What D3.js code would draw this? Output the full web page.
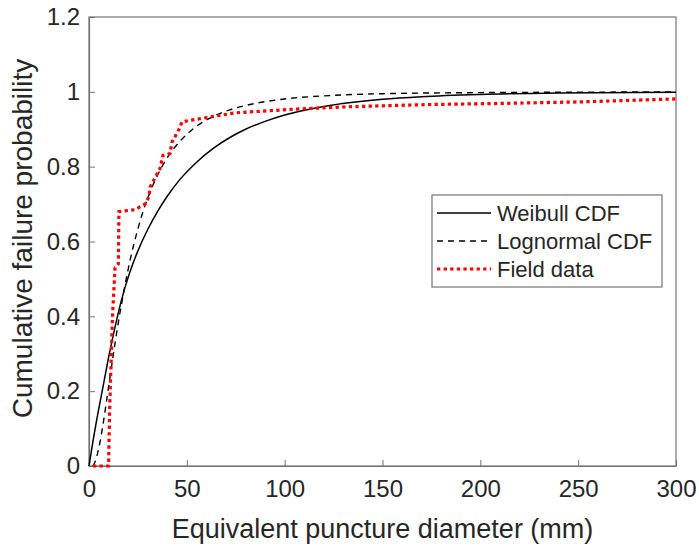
<!DOCTYPE html>
<meta charset="utf-8">
<script src="https://d3js.org/d3.v7.min.js"></script>
<style>
  body { margin: 0; background: #fff; }
  text { font-family: "Liberation Sans", Arial, sans-serif; fill: #262626; }
</style>
<div id="my_dataviz"></div>
<script>
// Weibull CDF
var weibullX = [0, 2, 4, 6, 8, 10, 12, 15, 18, 21, 25, 30, 35, 40, 46.5, 55, 63.5, 72, 80, 90, 100, 110, 120, 135, 150, 170, 200, 240, 300];
var weibullY = [0, 0.065, 0.125, 0.18, 0.235, 0.29, 0.34, 0.41, 0.47, 0.52, 0.575, 0.632, 0.68, 0.721, 0.766, 0.812, 0.849, 0.878, 0.90, 0.921, 0.938, 0.951, 0.961, 0.972, 0.980, 0.987, 0.993, 0.997, 0.999];

// Lognormal CDF
var lognX = [2, 3, 5, 7, 9, 12, 15, 18, 21, 25, 30, 35, 40, 46.5, 55, 63, 72, 85, 100, 123, 150, 200, 250, 300];
var lognY = [0, 0.01, 0.048, 0.106, 0.175, 0.283, 0.384, 0.472, 0.55, 0.634, 0.716, 0.777, 0.824, 0.868, 0.908, 0.933, 0.952, 0.969, 0.981, 0.990, 0.995, 0.998, 0.999, 1.0];

// Field data (empirical)
var fieldX = [2, 10, 10.5, 12, 13.3, 15, 15.3, 23.5, 28.6, 30.7, 31.2, 34.7, 36.3, 37.8, 41.4, 42.4, 46.5, 47.5, 62, 75, 106, 132, 173, 210, 250, 300];
var fieldY = [0, 0, 0.14, 0.40, 0.53, 0.54, 0.68, 0.685, 0.70, 0.72, 0.745, 0.78, 0.795, 0.83, 0.835, 0.865, 0.905, 0.92, 0.933, 0.944, 0.954, 0.960, 0.966, 0.969, 0.973, 0.981];

var xTicks = [0, 50, 100, 150, 200, 250, 300];
var yTicks = [0, 0.2, 0.4, 0.6, 0.8, 1, 1.2];

var seriesNames = ["Weibull CDF", "Lognormal CDF", "Field data"];

var margin = { top: 17, right: 23, bottom: 84, left: 89 },
    width = 699 - margin.left - margin.right,
    height = 550 - margin.top - margin.bottom;

var svg = d3.select("#my_dataviz")
  .append("svg")
    .attr("width", 699)
    .attr("height", 550)
  .append("g")
    .attr("transform", "translate(" + margin.left + "," + margin.top + ")");

var x = d3.scaleLinear().domain([0, 300]).range([0, width]);
var y = d3.scaleLinear().domain([0, 1.2]).range([height, 0]);

var axisColor = "#737373";

// box
svg.append("rect")
  .attr("x", 0).attr("y", 0)
  .attr("width", width).attr("height", height)
  .attr("fill", "none")
  .attr("stroke", axisColor)
  .attr("stroke-width", 1.2);

// X axis (ticks inward)
var xAxis = svg.append("g")
  .attr("transform", "translate(0," + height + ")")
  .call(d3.axisBottom(x).tickValues(xTicks).tickSizeInner(-6).tickSizeOuter(0).tickPadding(14));
// Y axis
var yAxis = svg.append("g")
  .call(d3.axisLeft(y).tickValues(yTicks).tickFormat(d3.format("~g")).tickSizeInner(-6).tickSizeOuter(0).tickPadding(9));

[xAxis, yAxis].forEach(function (a) {
  a.select(".domain").attr("stroke", axisColor).attr("stroke-width", 1.2);
  a.selectAll(".tick line").attr("stroke", axisColor);
  a.selectAll(".tick text")
    .attr("font-size", 24)
    .attr("font-family", null)
    .attr("fill", "#262626");
});
xAxis.selectAll(".tick text").attr("dy", "0.72em");

// axis labels
svg.append("text")
  .attr("x", width / 2)
  .attr("y", height + 72)
  .attr("text-anchor", "middle")
  .attr("font-size", 27)
  .text("Equivalent puncture diameter (mm)");

svg.append("text")
  .attr("transform", "translate(" + (-57) + "," + (height / 2 - 3) + ") rotate(-90)")
  .attr("text-anchor", "middle")
  .attr("font-size", 28)
  .text("Cumulative failure probability");

function toPoints(xs, ys) {
  return xs.map(function (d, i) { return [d, ys[i]]; });
}

var smooth = d3.line()
  .x(function (d) { return x(d[0]); })
  .y(function (d) { return y(d[1]); })
  .curve(d3.curveMonotoneX);

var straight = d3.line()
  .x(function (d) { return x(d[0]); })
  .y(function (d) { return y(d[1]); });

svg.append("path")
  .datum(toPoints(weibullX, weibullY))
  .attr("fill", "none")
  .attr("stroke", "#000")
  .attr("stroke-width", 1.5)
  .attr("d", smooth);

svg.append("path")
  .datum(toPoints(lognX, lognY))
  .attr("fill", "none")
  .attr("stroke", "#000")
  .attr("stroke-width", 1.4)
  .attr("stroke-dasharray", "6,5")
  .attr("d", smooth);

svg.append("path")
  .datum(toPoints(fieldX, fieldY))
  .attr("fill", "none")
  .attr("stroke", "#ff0000")
  .attr("stroke-width", 3.2)
  .attr("stroke-dasharray", "3.3,3.3")
  .attr("d", straight);

// legend
var lg = svg.append("g").attr("transform", "translate(" + (432 - margin.left) + "," + (195 - margin.top) + ")");
lg.append("rect")
  .attr("width", 230).attr("height", 92)
  .attr("fill", "#fff")
  .attr("stroke", axisColor)
  .attr("stroke-width", 1.2);

var styles = [
  { stroke: "#000", w: 1.5, dash: null },
  { stroke: "#000", w: 1.4, dash: "6,5" },
  { stroke: "#ff0000", w: 3.2, dash: "3.3,3.3" }
];

seriesNames.forEach(function (name, i) {
  var cy = 18 + i * 28;
  lg.append("line")
    .attr("x1", 5).attr("x2", 59)
    .attr("y1", cy).attr("y2", cy)
    .attr("stroke", styles[i].stroke)
    .attr("stroke-width", styles[i].w)
    .attr("stroke-dasharray", styles[i].dash);
  lg.append("text")
    .attr("x", 65)
    .attr("y", cy)
    .attr("dy", "0.36em")
    .attr("font-size", 22)
    .text(name);
});
</script>
